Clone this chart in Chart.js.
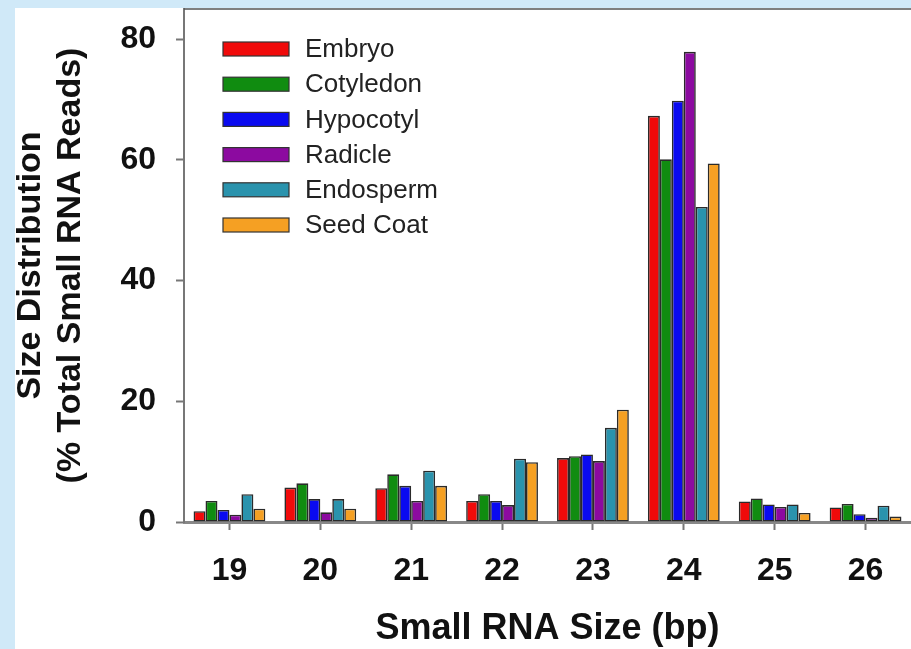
<!DOCTYPE html>
<html>
<head>
<meta charset="utf-8">
<script src="https://cdn.jsdelivr.net/npm/chart.js@4/dist/chart.umd.min.js"></script>
<style>
  html, body { margin: 0; padding: 0; }
  body { background: #d0e9f8; width: 911px; height: 649px; position: relative; overflow: hidden; }
  #panel { position: absolute; left: 15px; top: 8px; width: 896px; height: 641px; background: #fff; }
  #chart { position: absolute; left: 0; top: 0; }
</style>
</head>
<body>
<div id="panel"></div>
<canvas id="chart" width="911" height="649"></canvas>
<script>
// size categories (bp)
var sizes = ['19', '20', '21', '22', '23', '24', '25', '26'];

// % of total small RNA reads
var embryo    = [1.8, 5.7, 5.6, 3.5, 10.6, 67.3, 3.4, 2.4];
var cotyledon = [3.5, 6.4, 7.9, 4.6, 10.9, 60.1, 3.9, 3.0];
var hypocotyl = [2.0, 3.8, 6.0, 3.5, 11.2, 69.8, 2.9, 1.3];
var radicle   = [1.2, 1.6, 3.5, 2.8, 10.1, 77.9, 2.5, 0.7];
var endosperm = [4.6, 3.8, 8.5, 10.5, 15.6, 52.2, 2.9, 2.7];
var seedCoat  = [2.2, 2.2, 6.0, 9.9, 18.6, 59.4, 1.5, 0.9];

var yTicks = [0, 20, 40, 60, 80];

var fam = "'Liberation Sans', Arial, sans-serif";

function serie(label, datos, color) {
  return {
    label: label,
    data: datos,
    backgroundColor: color,
    borderColor: '#2a2a2a',
    borderWidth: 1.6,
    borderSkipped: false,
    categoryPercentage: 0.79,
    barPercentage: 1.0
  };
}

// legend drawn inside the plot, top-left
var leyenda = {
  id: 'leyenda',
  afterDatasetsDraw: function(chart) {
    var ctx = chart.ctx, area = chart.chartArea;
    var x0 = area.left + 39, y0 = area.top + 40, paso = 35.2;
    ctx.save();
    ctx.font = '26px ' + fam;
    ctx.textBaseline = 'middle';
    chart.data.datasets.forEach(function(ds, i) {
      var y = y0 + i * paso;
      ctx.fillStyle = ds.backgroundColor;
      ctx.fillRect(x0, y - 7, 66, 14);
      ctx.strokeStyle = '#333';
      ctx.lineWidth = 1.2;
      ctx.strokeRect(x0, y - 7, 66, 14);
      ctx.fillStyle = '#222';
      ctx.fillText(ds.label, x0 + 82, y + 1);
    });
    ctx.restore();
  }
};

// top frame line
var marco = {
  id: 'marco',
  afterDraw: function(chart) {
    var ctx = chart.ctx, area = chart.chartArea;
    ctx.save();
    ctx.strokeStyle = '#555';
    ctx.lineWidth = 1.5;
    ctx.beginPath();
    ctx.moveTo(area.left, area.top);
    ctx.lineTo(area.right, area.top);
    ctx.stroke();
    ctx.restore();
  }
};

var config = {
  type: 'bar',
  data: {
    labels: sizes,
    datasets: [
      serie('Embryo', embryo, '#f00a0a'),
      serie('Cotyledon', cotyledon, '#108c10'),
      serie('Hypocotyl', hypocotyl, '#0a0af0'),
      serie('Radicle', radicle, '#8c0aa0'),
      serie('Endosperm', endosperm, '#2a93ad'),
      serie('Seed Coat', seedCoat, '#f5a023')
    ]
  },
  options: {
    responsive: false,
    animation: false,
    layout: { padding: { top: 9, left: 0, right: 0, bottom: 0 } },
    plugins: {
      legend: { display: false },
      tooltip: { enabled: false }
    },
    scales: {
      x: {
        afterFit: function(s) { s.height = 127; s.paddingLeft = 0; s.paddingRight = 0; },
        grid: { drawOnChartArea: false, offset: false, tickLength: 8, tickColor: '#777', tickWidth: 2 },
        border: { display: true, color: '#888', width: 3 },
        ticks: { color: '#111', font: { family: fam, size: 32, weight: 'bold' }, padding: 22 },
        title: {
          display: true,
          text: 'Small RNA Size (bp)',
          color: '#111',
          font: { family: fam, size: 36, weight: 'bold', lineHeight: '40px' },
          padding: { top: 0, bottom: 0 }
        }
      },
      y: {
        min: 0,
        max: 85,
        afterFit: function(s) { s.width = 184; s.paddingTop = 0; s.paddingBottom = 0; },
        afterBuildTicks: function(s) { s.ticks = yTicks.map(function(v) { return { value: v }; }); },
        grid: { drawOnChartArea: false, tickLength: 8, tickColor: '#777', tickWidth: 2 },
        border: { display: true, color: '#777', width: 2 },
        ticks: { color: '#111', font: { family: fam, size: 32, weight: 'bold' }, padding: 20 },
        title: {
          display: true,
          text: ['Size Distribution', '(% Total Small RNA Reads)'],
          color: '#111',
          font: { family: fam, size: 34, weight: 'bold', lineHeight: '40px' },
          padding: { top: 11, bottom: 0 }
        }
      }
    }
  },
  plugins: [leyenda, marco]
};

window.myBar = new Chart(document.getElementById('chart'), config);
</script>
</body>
</html>
